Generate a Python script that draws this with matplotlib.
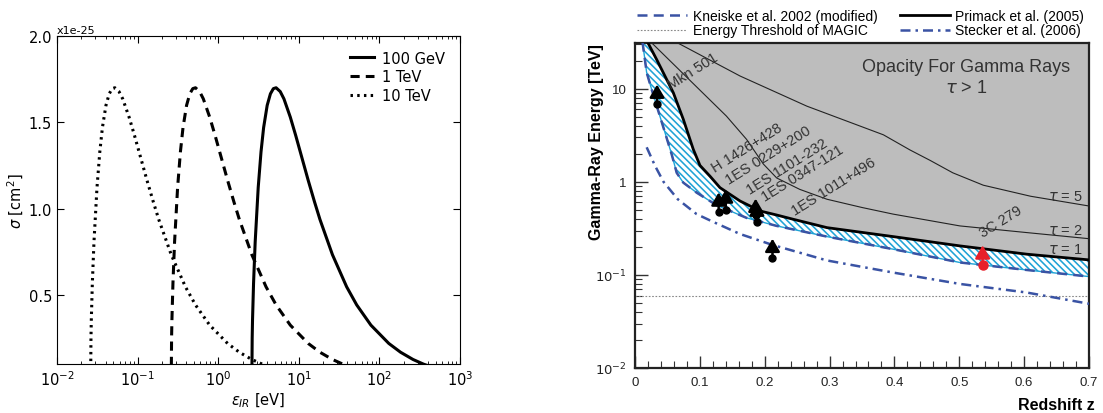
import matplotlib
matplotlib.use('Agg')
import matplotlib.pyplot as plt
from matplotlib.ticker import MultipleLocator, FixedLocator, NullFormatter

# gamma-gamma pair production cross section, sigma in units of 1e-25 cm^2
eps_100gev = [2.611, 2.637, 2.663, 2.742, 2.872, 3.133, 3.394, 3.655, 4.047, 4.439,
              4.830, 5.222, 5.875, 6.528, 7.833, 9.139, 10.44, 13.06, 15.67, 18.28,
              26.11, 39.17, 52.22, 78.33, 130.6, 182.8, 261.1, 352.5, 522.2]
eps_1tev = [0.2611, 0.2637, 0.2663, 0.2742, 0.2872, 0.3133, 0.3394, 0.3655, 0.4047, 0.4439,
            0.4830, 0.5222, 0.5875, 0.6528, 0.7833, 0.9139, 1.044, 1.306, 1.567, 1.828,
            2.611, 3.917, 5.222, 7.833, 13.06, 18.28, 26.11, 35.25, 52.22]
eps_10tev = [0.02611, 0.02637, 0.02663, 0.02742, 0.02872, 0.03133, 0.03394, 0.03655, 0.04047, 0.04439,
             0.04830, 0.05222, 0.05875, 0.06528, 0.07833, 0.09139, 0.1044, 0.1306, 0.1567, 0.1828,
             0.2611, 0.3917, 0.5222, 0.7833, 1.306, 1.828, 2.611, 3.525, 5.222]
sigma = [0.0, 0.251, 0.356, 0.567, 0.806, 1.123, 1.329, 1.469, 1.598, 1.665,
         1.695, 1.700, 1.678, 1.636, 1.530, 1.424, 1.327, 1.164, 1.038, 0.937,
         0.733, 0.547, 0.442, 0.325, 0.219, 0.168, 0.126, 0.099, 0.071]
sigma_ticks = [0.5, 1.0, 1.5, 2.0]

# gamma-ray horizon: cutoff energy [TeV] versus redshift
primack_z = [0.019, 0.0334, 0.0591, 0.0745, 0.0899, 0.1002, 0.1156, 0.131, 0.162,
             0.193, 0.2185, 0.244, 0.296, 0.398, 0.501, 0.604, 0.7]
primack_e = [32.0, 20.6, 9.06, 4.69, 2.23, 1.50, 1.15, 0.866, 0.622,
             0.486, 0.44, 0.396, 0.322, 0.258, 0.205, 0.167, 0.145]

kneiske_z = [0.0115, 0.018, 0.0257, 0.036, 0.0463, 0.0566, 0.0643, 0.0745, 0.0951,
             0.126, 0.172, 0.2185, 0.296, 0.398, 0.501, 0.604, 0.7]
kneiske_e = [32.0, 14.9, 9.84, 5.75, 3.37, 1.97, 1.25, 0.98, 0.765,
             0.56, 0.41, 0.336, 0.258, 0.189, 0.136, 0.113, 0.096]

stecker_z = [0.018, 0.031, 0.044, 0.066, 0.095, 0.121, 0.162, 0.212, 0.296, 0.398, 0.501, 0.604, 0.7]
stecker_e = [2.35, 1.48, 1.0, 0.65, 0.45, 0.37, 0.275, 0.21, 0.143, 0.106, 0.08, 0.0647, 0.049]

tau2_z = [0.026, 0.141, 0.172, 0.198, 0.2185, 0.254, 0.296, 0.35, 0.398, 0.501, 0.604, 0.7]
tau2_e = [31.0, 5.08, 2.86, 1.55, 1.1, 0.83, 0.65, 0.53, 0.45, 0.336, 0.285, 0.245]

tau5_z = [0.066, 0.162, 0.265, 0.383, 0.424, 0.455, 0.49, 0.537, 0.61, 0.7]
tau5_e = [31.0, 13.7, 6.5, 3.2, 2.2, 1.7, 1.25, 0.92, 0.70, 0.55]

magic_threshold = 0.06

# observed sources (lower limits): redshift, measured energy, arrow tip
src_z = [0.034, 0.129, 0.140, 0.186, 0.188, 0.212]
src_e = [6.8, 0.48, 0.50, 0.44, 0.37, 0.153]
src_tip = [11.1, 0.77, 0.83, 0.66, 0.60, 0.245]
c279_z, c279_e, c279_tip = 0.536, 0.127, 0.208

src_names = ['Mkn 501', 'H 1426+428', '1ES 0229+200', '1ES 1101-232',
             '1ES 0347-121', '1ES 1011+496', '3C 279']
name_z = [0.0894, 0.1732, 0.2056, 0.2339, 0.2586, 0.3069, 0.564]
name_e = [15.5, 2.33, 1.97, 1.46, 1.26, 0.90, 0.38]

z_ticks = [0, 0.1, 0.2, 0.3, 0.4, 0.5, 0.6, 0.7]
z_labels = ['0', '0.1', '0.2', '0.3', '0.4', '0.5', '0.6', '0.7']
e_ticks = [0.01, 0.1, 1, 10]
e_labels = [r'$10^{-2}$', r'$10^{-1}$', '1', '10']

plt.rcParams['hatch.linewidth'] = 1.15

fig = plt.figure(figsize=(11.03, 4.14), dpi=100)

# ---- left: cross sections ----
ax1 = fig.add_axes([0.0517, 0.1184, 0.3654, 0.7923])
ax1.semilogx(eps_100gev, sigma, color='k', lw=2.2, label='100 GeV')
ax1.semilogx(eps_1tev, sigma, color='k', lw=2.2, ls=(0, (3.0, 2.0)), label='1 TeV')
ax1.semilogx(eps_10tev, sigma, color='k', lw=2.2, ls=(0, (0.8, 1.4)), label='10 TeV')
ax1.set_xlim(1e-2, 1e3)
ax1.set_ylim(0.1, 2.0)
ax1.set_yticks(sigma_ticks)
ax1.tick_params(which='both', direction='in', top=True, right=True, labelsize=10.5)
ax1.tick_params(which='major', length=5)
ax1.tick_params(which='minor', length=2.5)
ax1.set_xlabel(r'$\epsilon_{IR}$ [eV]', fontsize=10.5, labelpad=2)
ax1.set_ylabel(r'$\sigma$ [cm$^2$]', fontsize=10.5, labelpad=2)
ax1.text(0.0, 1.003, 'x1e-25', transform=ax1.transAxes, fontsize=8, va='bottom')
ax1.legend(loc='upper right', frameon=False, fontsize=10.5, handlelength=1.6,
           labelspacing=0.25, handletextpad=0.6, borderaxespad=0.6)

# ---- right: gamma-ray horizon ----
rf = 'Liberation Sans'
blue = '#3a53a4'
cyan = '#1fa3d6'
ax2 = fig.add_axes([0.5757, 0.1087, 0.4116, 0.7850])
ax2.set_yscale('log')
ax2.set_xlim(0, 0.7)
ax2.set_ylim(0.01, 31)

ax2.fill_between(primack_z, primack_e, 40, color='#bdbdbd', lw=0, zorder=1)
ax2.fill(kneiske_z + primack_z[::-1], kneiske_e + primack_e[::-1], facecolor='white',
         edgecolor=cyan, hatch='\\\\\\\\\\', lw=0, zorder=1)
ax2.plot(kneiske_z, kneiske_e, color=cyan, lw=1.0, zorder=2)

h_magic, = ax2.plot([0, 0.7], [magic_threshold, magic_threshold], color='#888888', lw=0.8,
                    ls=(0, (1.5, 1.5)), label='Energy Threshold of MAGIC', zorder=2)
ax2.plot(tau5_z, tau5_e, color='#222222', lw=0.8, zorder=3)
ax2.plot(tau2_z, tau2_e, color='#222222', lw=0.8, zorder=3)
h_pri, = ax2.plot(primack_z, primack_e, color='k', lw=2.0, label='Primack et al. (2005)', zorder=4)
h_kne, = ax2.plot(kneiske_z, kneiske_e, color=blue, lw=1.8, ls=(0, (4, 2.5)),
                  label='Kneiske et al. 2002 (modified)', zorder=4)
h_ste, = ax2.plot(stecker_z, stecker_e, color=blue, lw=1.8, ls=(0, (4, 2, 1, 2)),
                  label='Stecker et al. (2006)', zorder=4)

arrow = dict(arrowstyle='-|>,head_length=0.55,head_width=0.32', lw=1.8, color='k',
             shrinkA=0, shrinkB=0, mutation_scale=14)
for z, e, t in zip(src_z, src_e, src_tip):
    ax2.annotate('', xy=(z, t), xytext=(z, e), arrowprops=arrow, zorder=5)
ax2.plot(src_z, src_e, 'o', color='k', ms=5, zorder=5)
ax2.annotate('', xy=(c279_z, c279_tip), xytext=(c279_z, c279_e),
             arrowprops=dict(arrow, color='#e8202a'), zorder=5)
ax2.plot([c279_z], [c279_e], 'o', color='#e8202a', ms=6.5, zorder=5)

for name, z, e in zip(src_names, name_z, name_e):
    ax2.text(z, e, name, rotation=32, ha='center', va='center', rotation_mode='anchor',
             fontsize=10.5, family=rf, color='#333333', zorder=6)

for lab, e in [(r'$\tau$ = 5', 0.705), (r'$\tau$ = 2', 0.304), (r'$\tau$ = 1', 0.192)]:
    ax2.text(0.691, e, lab, ha='right', va='center', fontsize=10.5, family=rf, color='#333333')

ax2.text(0.51, 17.5, 'Opacity For Gamma Rays', ha='center', va='center', fontsize=13,
         family=rf, color='#333333')
ax2.text(0.51, 10.3, r'$\tau$ > 1', ha='center', va='center', fontsize=13,
         family=rf, color='#333333')

ax2.set_xticks(z_ticks, z_labels)
ax2.xaxis.set_minor_locator(MultipleLocator(0.02))
ax2.set_yticks(e_ticks, e_labels)
ax2.yaxis.set_minor_locator(FixedLocator([m * 10.0 ** d for d in range(-2, 2) for m in range(2, 10)]))
ax2.yaxis.set_minor_formatter(NullFormatter())
ax2.tick_params(which='both', direction='in', top=False, right=False, color='#333333',
                labelsize=9.5, labelcolor='#222222')
ax2.tick_params(which='major', length=9, width=1.0, pad=6)
ax2.tick_params(which='minor', length=5, width=0.8)
for lbl in ax2.get_xticklabels() + ax2.get_yticklabels():
    lbl.set_family(rf)
for sp in ax2.spines.values():
    sp.set_linewidth(1.6)
    sp.set_color('#222222')

ax2.set_xlabel('Redshift z', fontsize=11.5, fontweight='bold', family=rf, ha='right', va='center')
ax2.xaxis.set_label_coords(1.013, -0.111)
ax2.set_ylabel('Gamma-Ray Energy [TeV]', fontsize=11.5, fontweight='bold', family=rf,
               ha='right', va='center')
ax2.yaxis.set_label_coords(-0.084, 1.0)

fig.legend(handles=[h_kne, h_magic, h_pri, h_ste], ncol=2, loc='upper left',
           bbox_to_anchor=(0.569, 1.0), frameon=False, prop={'family': rf, 'size': 10},
           handlelength=3.6, handletextpad=0.4, labelspacing=0.05, columnspacing=1.6,
           borderpad=0.2)

fig.savefig('out.png', dpi=100)
